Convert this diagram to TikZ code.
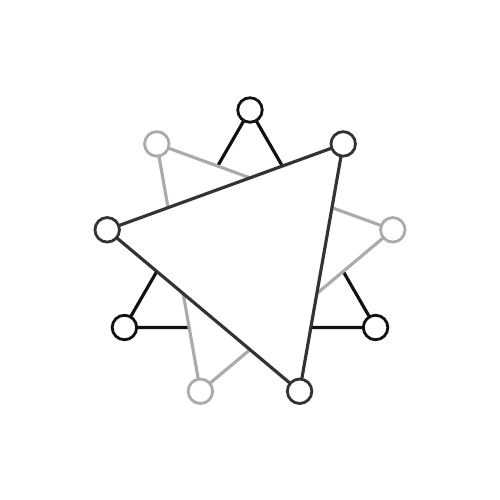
\documentclass[tikz,border=0pt]{standalone}
\usetikzlibrary{positioning}
\definecolor{inkblack}{HTML}{111111}
\definecolor{inkgray}{HTML}{ABABAB}
\definecolor{inkdark}{HTML}{333333}
\tikzset{
  triside/.style={line width=1.8pt, fill=white, line join=round},
  vertex/.style={circle, fill=white, line width=1.6pt, minimum size=0.49cm, inner sep=0pt},
}
\begin{document}
\begin{tikzpicture}
		\useasboundingbox (-5,-4.9) rectangle (5,5.1);

		% black triangle (back)
		\coordinate (k1) at (90:2.9);
		\coordinate (k2) at (210:2.9);
		\coordinate (k3) at (330:2.9);
		\filldraw[triside, draw=inkblack] (k1) -- (k2) -- (k3) -- cycle;
		\node[vertex, draw=inkblack] (kv1) at (k1) {};
		\node[vertex, draw=inkblack] (kv2) at (k2) {};
		\node[vertex, draw=inkblack] (kv3) at (k3) {};

		% light gray triangle
		\coordinate (g1) at (130:2.9);
		\coordinate (g2) at (250:2.9);
		\coordinate (g3) at (10:2.9);
		\filldraw[triside, draw=inkgray] (g1) -- (g2) -- (g3) -- cycle;
		\node[vertex, draw=inkgray] (gv1) at (g1) {};
		\node[vertex, draw=inkgray] (gv2) at (g2) {};
		\node[vertex, draw=inkgray] (gv3) at (g3) {};

		% dark gray triangle (front)
		\coordinate (d1) at (50:2.9);
		\coordinate (d2) at (170:2.9);
		\coordinate (d3) at (290:2.9);
		\filldraw[triside, draw=inkdark] (d1) -- (d2) -- (d3) -- cycle;
		\node[vertex, draw=inkdark] (dv1) at (d1) {};
		\node[vertex, draw=inkdark] (dv2) at (d2) {};
		\node[vertex, draw=inkdark] (dv3) at (d3) {};
	\end{tikzpicture}
\end{document}
